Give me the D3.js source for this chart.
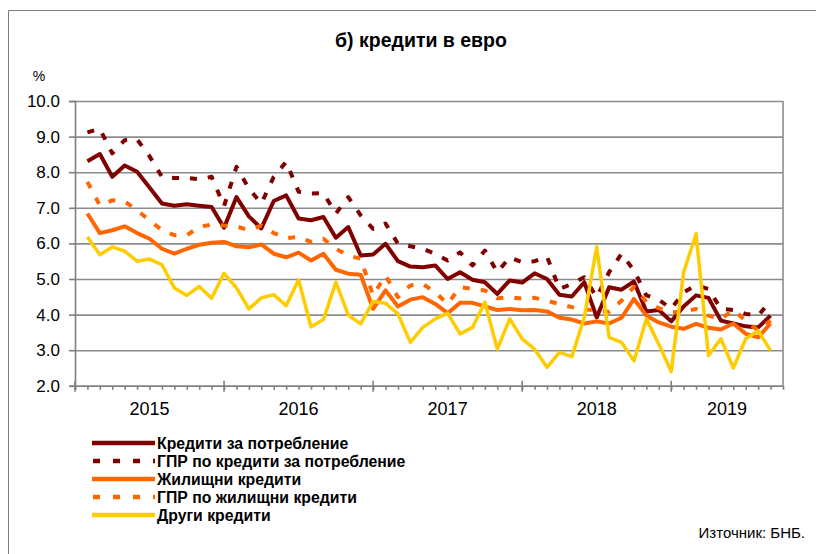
<!DOCTYPE html>
<html>
<head>
<meta charset="utf-8">
<script src="https://cdn.jsdelivr.net/npm/d3@7"></script>
<style>
  body { margin: 0; background: #fff; }
  svg { display: block; font-family: 'Liberation Sans', Arial, sans-serif; }
</style>
</head>
<body>
<div id="chart"></div>
<script>
// monthly data, Jan 2015 - Aug 2019
const years = ['2015', '2016', '2017', '2018', '2019'];
const months = d3.timeMonth.range(new Date(2015, 0, 1), new Date(2019, 8, 1));
const yTicks = [2, 3, 4, 5, 6, 7, 8, 9, 10];

const consumer = [8.31, 8.51, 7.87, 8.19, 8.01, 7.57, 7.12, 7.06, 7.10, 7.06, 7.02, 6.44,
  7.30, 6.76, 6.42, 7.19, 7.35, 6.70, 6.65, 6.74, 6.16, 6.46, 5.66, 5.69,
  5.99, 5.50, 5.35, 5.33, 5.38, 5.00, 5.19, 4.98, 4.91, 4.58, 4.96, 4.90,
  5.16, 5.00, 4.56, 4.51, 4.91, 3.92, 4.77, 4.70, 4.93, 4.09, 4.13, 3.81,
  4.23, 4.54, 4.47, 3.83, 3.75, 3.67, 3.64, 3.97];
const aprcConsumer = [9.12, 9.22, 8.53, 8.90, 8.92, 8.45, 7.87, 7.84, 7.84, 7.80, 7.87, 7.05,
  8.15, 7.54, 7.12, 7.87, 8.29, 7.45, 7.40, 7.41, 6.84, 7.30, 6.79, 6.41,
  6.56, 5.99, 5.92, 5.85, 5.71, 5.52, 5.75, 5.38, 5.80, 5.19, 5.61, 5.47,
  5.50, 5.63, 4.72, 4.86, 5.05, 4.49, 5.19, 5.71, 5.24, 4.54, 4.42, 4.16,
  4.63, 4.82, 4.72, 4.16, 4.13, 4.02, 3.97, 4.39];
const housing = [6.84, 6.29, 6.37, 6.48, 6.29, 6.13, 5.85, 5.71, 5.85, 5.96, 6.02, 6.04,
  5.92, 5.89, 5.97, 5.71, 5.61, 5.74, 5.52, 5.71, 5.26, 5.15, 5.12, 4.16,
  4.68, 4.23, 4.42, 4.49, 4.30, 4.04, 4.33, 4.33, 4.23, 4.13, 4.16, 4.12,
  4.13, 4.09, 3.91, 3.86, 3.75, 3.81, 3.75, 3.91, 4.44, 3.97, 3.78, 3.66,
  3.60, 3.74, 3.63, 3.58, 3.75, 3.46, 3.36, 3.75];
const aprcHousing = [7.73, 7.07, 7.21, 7.18, 6.93, 6.65, 6.37, 6.23, 6.23, 6.46, 6.53, 6.50,
  6.48, 6.37, 6.50, 6.29, 6.15, 6.18, 6.04, 6.13, 5.85, 5.66, 5.57, 4.54,
  5.10, 4.49, 4.82, 4.86, 4.63, 4.30, 4.77, 4.72, 4.68, 4.46, 4.49, 4.45,
  4.47, 4.39, 4.30, 4.21, 4.15, 4.11, 4.08, 4.39, 4.78, 4.35, 4.18, 4.06,
  4.08, 4.16, 3.97, 3.88, 4.13, 3.83, 3.55, 3.83];
const other = [6.18, 5.68, 5.90, 5.78, 5.50, 5.56, 5.40, 4.75, 4.54, 4.79, 4.46, 5.16,
  4.75, 4.16, 4.47, 4.56, 4.25, 4.98, 3.66, 3.86, 4.91, 3.99, 3.74, 4.37,
  4.32, 4.02, 3.22, 3.64, 3.88, 4.04, 3.46, 3.64, 4.35, 3.03, 3.88, 3.32,
  3.03, 2.52, 2.94, 2.82, 3.92, 5.90, 3.36, 3.22, 2.70, 3.88, 3.17, 2.40,
  5.19, 6.27, 2.85, 3.32, 2.50, 3.32, 3.55, 2.99];

const series = [
  { name: 'Кредити за потребление', values: consumer, color: '#800000', dash: null },
  { name: 'ГПР по кредити за потребление', values: aprcConsumer, color: '#800000', dash: '7,11' },
  { name: 'Жилищни кредити', values: housing, color: '#ff6600', dash: null },
  { name: 'ГПР по жилищни кредити', values: aprcHousing, color: '#ff6600', dash: '7,11' },
  { name: 'Други кредити', values: other, color: '#ffcc00', dash: null }
];

const W = 816, H = 554;
const plot = { left: 75, right: 783, top: 101, bottom: 385.8 };

const svg = d3.select('#chart').append('svg')
  .attr('width', W)
  .attr('height', H);

// outer frame (top/left visible)
svg.append('path')
  .attr('d', `M8.5,${H}V10.5H${W}`)
  .attr('fill', 'none')
  .attr('stroke', '#808080')
  .attr('stroke-width', 1);

const x = d3.scaleLinear()
  .domain([-1, months.length])
  .range([plot.left, plot.right]);

const y = d3.scaleLinear()
  .domain([2, 10])
  .range([plot.bottom, plot.top]);

// gridlines
svg.append('g')
  .attr('transform', `translate(${plot.left},0)`)
  .call(d3.axisLeft(y).tickValues(yTicks).tickSize(-(plot.right - plot.left)).tickFormat(''))
  .call(g => g.select('.domain').remove())
  .call(g => g.selectAll('line').attr('stroke', '#8c8c8c').attr('stroke-width', 1.6));

// right border
svg.append('line')
  .attr('x1', plot.right).attr('x2', plot.right)
  .attr('y1', plot.top).attr('y2', plot.bottom)
  .attr('stroke', '#8c8c8c')
  .attr('stroke-width', 1.6);

// y axis
svg.append('g')
  .attr('transform', `translate(${plot.left},0)`)
  .call(d3.axisLeft(y).tickValues(yTicks).tickSize(6).tickPadding(9).tickFormat(d3.format('.1f')))
  .call(g => g.selectAll('line, path').attr('stroke', '#808080').attr('stroke-width', 1.6))
  .call(g => g.selectAll('text')
    .attr('font-family', "'Liberation Sans', Arial, sans-serif")
    .attr('font-size', 17)
    .attr('fill', '#000'));

svg.append('text')
  .attr('x', 39)
  .attr('y', 81)
  .attr('text-anchor', 'middle')
  .attr('font-size', 14)
  .text('%');

// x axis with minor month ticks
svg.append('g')
  .attr('transform', `translate(0,${plot.bottom})`)
  .call(d3.axisBottom(x).tickValues(d3.range(-1, months.length)).tickSize(4).tickFormat(''))
  .call(g => g.selectAll('line, path').attr('stroke', '#808080').attr('stroke-width', 1.6));

// major ticks at year boundaries
const yearStart = years.map((yr, k) => k * 12 - 1);
svg.append('g')
  .selectAll('line')
  .data(yearStart)
  .join('line')
  .attr('x1', d => x(d)).attr('x2', d => x(d))
  .attr('y1', plot.bottom - 5).attr('y2', plot.bottom + 6)
  .attr('stroke', '#808080')
  .attr('stroke-width', 1.6);

svg.append('g')
  .selectAll('text')
  .data(years)
  .join('text')
  .attr('x', (d, k) => (x(yearStart[k]) + x(Math.min(yearStart[k] + 12, months.length))) / 2)
  .attr('y', 415)
  .attr('text-anchor', 'middle')
  .attr('font-size', 18)
  .text(d => d);

// lines
const line = d3.line()
  .x((d, i) => x(i))
  .y(d => y(d))
  .curve(d3.curveLinear);

series.forEach(s => {
  svg.append('path')
    .datum(s.values)
    .attr('fill', 'none')
    .attr('stroke', s.color)
    .attr('stroke-width', s.color === '#ffcc00' ? 3.5 : 4)
    .attr('stroke-linejoin', 'round')
    .attr('stroke-dasharray', s.dash)
    .attr('d', line);
});

// title
svg.append('text')
  .attr('x', 421)
  .attr('y', 47)
  .attr('text-anchor', 'middle')
  .attr('font-size', 19.5)
  .attr('font-weight', 'bold')
  .text('б) кредити в евро');

// legend
const legend = svg.append('g')
  .attr('transform', 'translate(92,443)');

series.forEach((s, i) => {
  const item = legend.append('g')
    .attr('transform', `translate(0,${i * 18})`);

  item.append('line')
    .attr('x1', s.dash ? 1 : 0)
    .attr('x2', 63)
    .attr('stroke', s.color)
    .attr('stroke-width', 4.5)
    .attr('stroke-dasharray', s.dash ? '7,13' : null);

  item.append('text')
    .attr('x', 65)
    .attr('y', 6)
    .attr('font-size', 15.8)
    .attr('font-weight', 'bold')
    .text(s.name);
});

svg.append('text')
  .attr('x', 805)
  .attr('y', 538)
  .attr('text-anchor', 'end')
  .attr('font-size', 15)
  .text('Източник: БНБ.');
</script>
</body>
</html>
